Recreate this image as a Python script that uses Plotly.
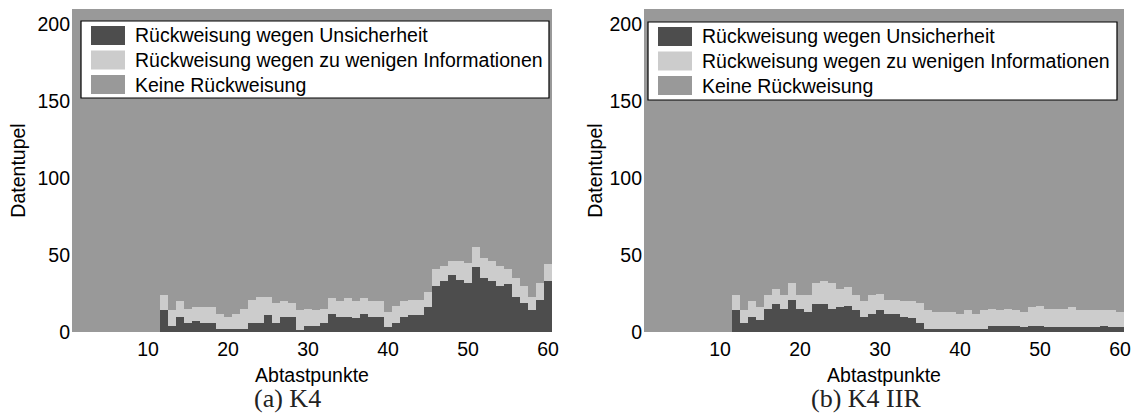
import plotly.graph_objects as go
from plotly.subplots import make_subplots

# Abtastpunkte 1..60, Datentupel pro Abtastpunkt
n_points = 60
total_tuples = 210
samples = list(range(1, n_points + 1))

# (a) K4 -- points 1..11 have no rejections
k4_unsicher = [0] * 11 + [
    14, 4, 10, 6, 7, 6, 6, 2, 2, 2,
    2, 6, 6, 11, 6, 10, 10, 1, 4, 4,
    6, 12, 10, 10, 9, 12, 10, 10, 3, 6,
    10, 11, 11, 16, 30, 33, 37, 34, 32, 42,
    35, 33, 30, 31, 23, 19, 14, 21, 33]
k4_abgelehnt = [0] * 11 + [
    24, 14, 20, 15, 16, 16, 16, 12, 10, 12,
    15, 21, 23, 23, 19, 20, 19, 14, 15, 14,
    15, 22, 20, 22, 20, 22, 20, 20, 13, 17,
    20, 21, 21, 26, 41, 43, 46, 46, 45, 55,
    48, 46, 43, 41, 35, 30, 23, 32, 44]

# (b) K4 IIR
iir_unsicher = [0] * 11 + [
    14, 6, 10, 8, 15, 18, 15, 21, 15, 13,
    18, 18, 15, 16, 17, 14, 10, 12, 14, 12,
    12, 10, 9, 6, 2, 2, 2, 2, 2, 2,
    2, 2, 4, 4, 4, 4, 3, 4, 4, 3,
    3, 3, 3, 3, 3, 3, 4, 3, 3]
iir_abgelehnt = [0] * 11 + [
    24, 14, 20, 16, 24, 28, 24, 32, 24, 24,
    32, 33, 32, 28, 29, 24, 20, 24, 25, 21,
    21, 20, 20, 19, 14, 13, 13, 13, 12, 14,
    12, 14, 15, 14, 15, 14, 13, 16, 17, 15,
    15, 15, 16, 14, 14, 14, 14, 14, 13]

series_names = ["Rückweisung wegen Unsicherheit",
                "Rückweisung wegen zu wenigen Informationen",
                "Keine Rückweisung"]
series_colors = ["#4d4d4d", "#cccccc", "#999999"]
captions = ["(a) K4", "(b) K4 IIR"]

W, H = 1135, 416
FONT = "Liberation Sans, Arial, sans-serif"
FS = 19.5


def px(x):
    return x / W


def py(y):
    return 1 - y / H


def split(unsicher, abgelehnt):
    info = [a - u for a, u in zip(abgelehnt, unsicher)]
    keine = [total_tuples - a for a in abgelehnt]
    return [unsicher, info, keine]


fig = make_subplots(rows=1, cols=2)
panels = [split(k4_unsicher, k4_abgelehnt), split(iir_unsicher, iir_abgelehnt)]
for col, stacks in enumerate(panels, start=1):
    for name, color, vals in zip(series_names, series_colors, stacks):
        fig.add_trace(go.Bar(x=samples, y=vals, name=name, marker_color=color,
                             marker_line_width=0, showlegend=False,
                             hovertemplate='%{x}: %{y}<extra>' + name + '</extra>'),
                      row=1, col=col)

# axis placement in pixels
panel_x = [(72, 552), (644, 1124)]
ytitle_standoff = [6, 1]
top, bottom = 9, 332
for i, (x0, x1) in enumerate(panel_x, start=1):
    fig.update_xaxes(domain=[px(x0), px(x1)], range=[0.5, n_points + 0.5],
                     tickvals=[10, 20, 30, 40, 50, 60], ticks="", showgrid=False,
                     zeroline=False, showline=False, ticklabelstandoff=3,
                     automargin=False,
                     tickfont=dict(family=FONT, size=FS, color="black"),
                     title=dict(text="Abtastpunkte", standoff=9,
                                font=dict(family=FONT, size=FS, color="black")),
                     row=1, col=i)
    fig.update_yaxes(domain=[py(bottom), py(top)], range=[0, total_tuples],
                     tickvals=[0, 50, 100, 150, 200], ticks="", showgrid=False,
                     zeroline=False, showline=False, ticklabelstandoff=1,
                     automargin=False,
                     tickfont=dict(family=FONT, size=FS, color="black"),
                     title=dict(text="Datentupel", standoff=ytitle_standoff[i - 1],
                                font=dict(family=FONT, size=FS, color="black")),
                     row=1, col=i)

# legend boxes drawn by hand so the swatches match the original size
shapes = []
annotations = []
legend_boxes = [(81, 549, 21, 98), (648, 1117, 22, 100)]
for (lx0, lx1, ly0, ly1) in legend_boxes:
    shapes.append(dict(type="rect", xref="paper", yref="paper",
                       x0=px(lx0), x1=px(lx1), y0=py(ly1), y1=py(ly0),
                       fillcolor="white", line=dict(color="black", width=1.2)))
    for k, (name, color) in enumerate(zip(series_names, series_colors)):
        sy0 = ly0 + 5 + k * 24.5
        shapes.append(dict(type="rect", xref="paper", yref="paper",
                           x0=px(lx0 + 10), x1=px(lx0 + 44),
                           y0=py(sy0 + 19), y1=py(sy0),
                           fillcolor=color, line=dict(width=0)))
        annotations.append(dict(xref="paper", yref="paper", x=px(lx0 + 52),
                                y=py(sy0 + 9.5), text=name, showarrow=False,
                                xanchor="left", yanchor="middle",
                                font=dict(family=FONT, size=FS, color="black")))

for cap, cx in zip(captions, [287, 866]):
    annotations.append(dict(xref="paper", yref="paper", x=px(cx), y=py(398),
                            text=cap, showarrow=False, xanchor="center",
                            yanchor="middle",
                            font=dict(family="Liberation Serif, serif", size=26,
                                      color="#222222")))

fig.update_layout(width=W, height=H, barmode="stack", bargap=0,
                  margin=dict(l=0, r=0, t=0, b=0, autoexpand=False),
                  plot_bgcolor="white", paper_bgcolor="white",
                  shapes=shapes, annotations=annotations, showlegend=False)

# page body has a default 8px margin; drop it so the figure fills the window
fig.write_html("out.html", config={"displayModeBar": False},
               post_script="document.body.style.margin='0';")
